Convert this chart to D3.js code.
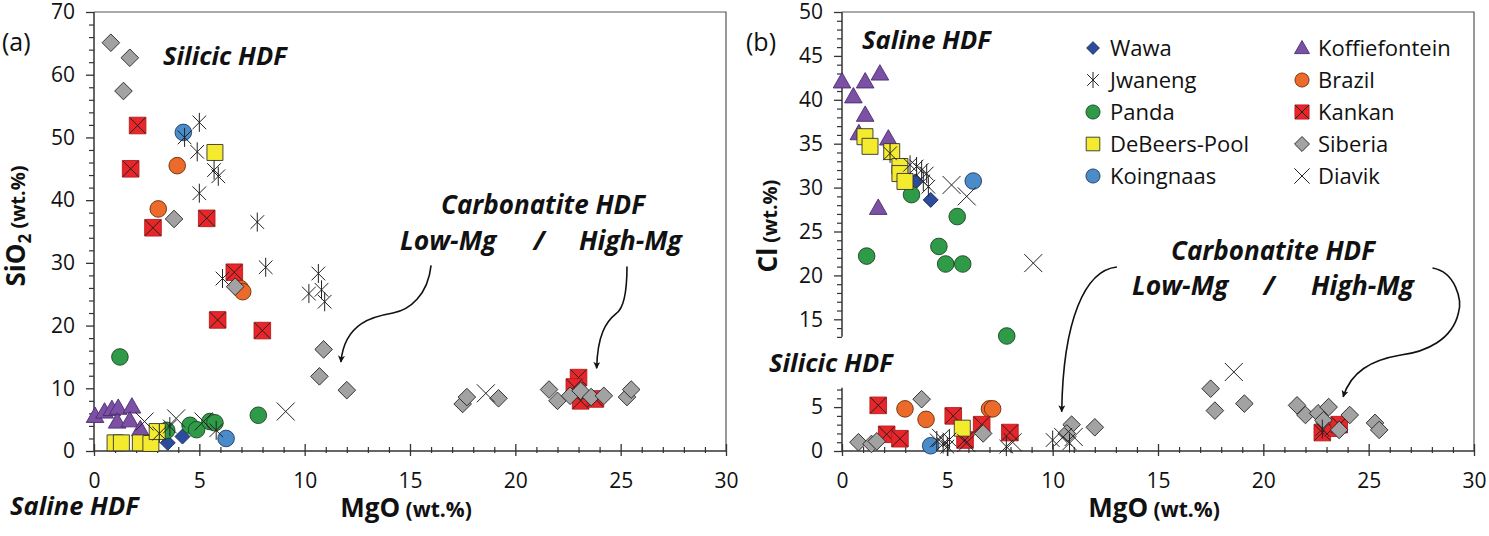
<!DOCTYPE html>
<html>
<head>
<meta charset="utf-8">
<script src="https://cdn.jsdelivr.net/npm/d3@7"></script>
<style>
  body { margin: 0; background: #fff; }
  text { font-family: "Open Sans", sans-serif; fill: #111; }
</style>
</head>
<body>
<script>
// ---- data: [MgO wt.%, SiO2 wt.%] for panel (a), [MgO wt.%, Cl wt.%] for panel (b)
var wawaA = [[3.5, 1.3], [4.2, 2.3]];
var koffA = [[0.05, 5.6], [0.5, 6.3], [0.85, 6.7], [1.15, 6.9], [1.8, 7.1], [1.1, 4.7], [1.7, 4.9], [2.2, 3.5]];
var jwanA = [[5.0, 52.4], [4.3, 50.0], [4.9, 47.7], [5.7, 44.8], [5.9, 43.8], [5.0, 41.1], [7.75, 36.5],
             [8.15, 29.3], [10.65, 28.3], [10.2, 25.1], [10.8, 25.7], [10.95, 23.8], [6.1, 27.5],
             [3.6, 3.9], [3.1, 2.8], [5.8, 3.3]];
var pandaA = [[1.23, 15.0], [7.8, 5.7], [4.56, 4.1], [4.87, 3.4], [5.5, 4.7], [5.74, 4.5], [3.45, 3.3]];
var koinA = [[4.24, 50.8], [6.27, 2.0]];
var brazA = [[3.95, 45.5], [3.05, 38.6], [6.95, 25.9], [7.06, 25.4]];
var kankA = [[2.07, 51.9], [1.74, 45.0], [2.8, 35.6], [5.35, 37.1], [6.66, 28.5], [5.87, 20.9], [7.99, 19.2],
             [23.0, 11.7], [22.8, 10.2], [23.1, 8.0], [23.8, 8.3]];
var debA = [[5.74, 47.6], [1.0, 1.3], [1.3, 1.3], [2.2, 1.3], [2.7, 1.2], [3.0, 3.1]];
var sibA = [[0.8, 65.1], [1.7, 62.7], [1.4, 57.4], [3.8, 37.0], [6.7, 26.2], [10.9, 16.2], [10.7, 11.9],
            [12.0, 9.7], [17.5, 7.5], [17.7, 8.6], [19.2, 8.4], [21.6, 9.8], [22.0, 8.0], [22.6, 8.8],
            [23.1, 9.6], [23.6, 8.6], [24.2, 8.8], [25.3, 8.6], [25.5, 9.8]];
var diavA = [[9.1, 6.3], [18.6, 9.2], [2.4, 4.7], [3.9, 5.2], [5.2, 4.7]];

var wawaB = [[3.46, 30.7], [4.21, 28.6]];
var koffB = [[0.0, 42.1], [0.54, 40.4], [1.1, 42.1], [1.8, 43.0], [1.1, 38.3], [0.8, 36.2], [2.2, 35.6], [1.72, 27.7]];
var jwanB = [[2.28, 33.9], [3.23, 32.6], [3.54, 32.4], [3.78, 32.0], [4.02, 31.6], [3.86, 30.7], [4.1, 30.1],
             [4.5, 1.2], [4.8, 0.8], [5.0, 0.5], [5.1, 1.3], [7.8, 0.5], [10.0, 1.25], [10.8, 0.9], [22.8, 2.5]];
var pandaB = [[3.3, 29.2], [5.47, 26.7], [1.17, 22.2], [4.6, 23.3], [4.92, 21.3], [5.73, 21.3], [7.82, 13.1]];
var koinB = [[6.23, 30.75], [4.21, 0.6]];
var brazB = [[2.99, 4.8], [3.99, 3.6], [7.0, 4.8], [7.15, 4.8]];
var kankB = [[1.72, 5.2], [2.12, 1.9], [2.75, 1.4], [5.28, 4.0], [5.84, 1.25], [6.63, 3.0], [7.97, 2.1],
             [22.8, 2.1], [23.3, 2.6], [23.6, 3.0]];
var debB = [[1.09, 35.8], [1.33, 34.7], [2.36, 34.1], [2.75, 32.4], [2.75, 31.6], [2.99, 30.7], [5.71, 2.6]];
var sibB = [[0.78, 1.0], [1.4, 0.8], [1.65, 1.1], [3.78, 5.9], [6.7, 2.0], [10.9, 3.0], [10.67, 2.0], [12.0, 2.7],
            [17.5, 7.1], [17.7, 4.6], [19.1, 5.4], [21.6, 5.2], [22.0, 4.1], [22.6, 4.3], [23.1, 5.0],
            [22.85, 3.5], [23.6, 2.4], [24.1, 4.1], [25.3, 3.2], [25.5, 2.4]];
var diavB = [[5.2, 30.3], [5.92, 29.0], [9.08, 21.4], [18.6, 9.0], [4.7, 1.5], [5.9, 0.9], [8.1, 1.0],
             [10.5, 1.6], [11.0, 1.6]];

// legend order (two columns) and drawing order
var legendCol1 = ['Wawa', 'Jwaneng', 'Panda', 'DeBeers-Pool', 'Koingnaas'];
var legendCol2 = ['Koffiefontein', 'Brazil', 'Kankan', 'Siberia', 'Diavik'];
var drawOrder = ['Wawa', 'Koffiefontein', 'Panda', 'Koingnaas', 'Brazil', 'Kankan', 'DeBeers-Pool', 'Siberia', 'Jwaneng', 'Diavik'];

var panelAData = {'Wawa': wawaA, 'Koffiefontein': koffA, 'Jwaneng': jwanA, 'Panda': pandaA, 'Koingnaas': koinA,
  'Brazil': brazA, 'Kankan': kankA, 'DeBeers-Pool': debA, 'Siberia': sibA, 'Diavik': diavA};
var panelBData = {'Wawa': wawaB, 'Koffiefontein': koffB, 'Jwaneng': jwanB, 'Panda': pandaB, 'Koingnaas': koinB,
  'Brazil': brazB, 'Kankan': kankB, 'DeBeers-Pool': debB, 'Siberia': sibB, 'Diavik': diavB};

// tick values
var xMajor = [0, 5, 10, 15, 20, 25, 30];
var yMajorA = [0, 10, 20, 30, 40, 50, 60, 70];
var yMajorB = [0, 5, 15, 20, 25, 30, 35, 40, 45, 50];

// ---- marker shapes (custom d3.symbol types, size = radius)
var shapes = {
  circle: { draw: function(c, r) { c.moveTo(r, 0); c.arc(0, 0, r, 0, 2 * Math.PI); } },
  square: { draw: function(c, r) { c.rect(-r, -r, 2 * r, 2 * r); } },
  diamond: { draw: function(c, r) { c.moveTo(0, -r); c.lineTo(r, 0); c.lineTo(0, r); c.lineTo(-r, 0); c.closePath(); } },
  triangle: { draw: function(c, r) { c.moveTo(0, -r); c.lineTo(r, r * 0.75); c.lineTo(-r, r * 0.75); c.closePath(); } },
  cross: { draw: function(c, r) { c.moveTo(-r, -r); c.lineTo(r, r); c.moveTo(-r, r); c.lineTo(r, -r); } },
  star: { draw: function(c, r) {
    var a = r * 0.72;
    c.moveTo(0, -r); c.lineTo(0, r);
    c.moveTo(-a, -a); c.lineTo(a, a);
    c.moveTo(-a, a); c.lineTo(a, -a);
  } }
};

var styles = {
  'Wawa':          { shape: 'diamond',  r: 7.5, fill: '#2c4d9c', stroke: '#17275a' },
  'Koffiefontein': { shape: 'triangle', r: 8.8, fill: '#7c50a4', stroke: '#4a2c6c' },
  'Jwaneng':       { shape: 'star',     r: 9.5, fill: 'none',    stroke: '#222', sw: 1 },
  'Panda':         { shape: 'circle',   r: 8.3, fill: '#2f9a47', stroke: '#1b4422' },
  'Koingnaas':     { shape: 'circle',   r: 8.3, fill: '#4a8bca', stroke: '#1f3a5c' },
  'Brazil':        { shape: 'circle',   r: 8.3, fill: '#ec6b2b', stroke: '#6b2c0d' },
  'Kankan':        { shape: 'square',   r: 8.3, fill: '#e8262a', stroke: '#b81c1f', cross: true },
  'DeBeers-Pool':  { shape: 'square',   r: 8,   fill: '#f4ea2e', stroke: '#333' },
  'Siberia':       { shape: 'diamond',  r: 8.8, fill: '#a2a2a2', stroke: '#222' },
  'Diavik':        { shape: 'cross',    r: 9,   fill: 'none',    stroke: '#222', sw: 1 }
};

var W = 1489, H = 536;
var svg = d3.select('body').append('svg').attr('width', W).attr('height', H);
svg.append('rect').attr('width', W).attr('height', H).attr('fill', '#fff');

var defs = svg.append('defs');
defs.append('marker').attr('id', 'arrow').attr('viewBox', '0 0 10 10')
  .attr('refX', 9).attr('refY', 5).attr('markerWidth', 10).attr('markerHeight', 7)
  .attr('markerUnits', 'userSpaceOnUse').attr('orient', 'auto')
  .append('path').attr('d', 'M0,0L10,5L0,10L2.5,5Z').attr('fill', '#111');

var axisColor = '#333';
var tickFont = '21px';

function drawMarker(g, name, r) {
  var st = styles[name];
  g.append('path')
    .attr('d', d3.symbol().type(shapes[st.shape]).size(r || st.r)())
    .attr('fill', st.fill).attr('stroke', st.stroke).attr('stroke-width', st.sw || 0.9);
  if (st.cross) {
    g.append('path')
      .attr('d', d3.symbol().type(shapes.cross).size((r || st.r) * 0.95)())
      .attr('fill', 'none').attr('stroke', '#222').attr('stroke-width', 1);
  }
}

function range(a, b) { var o = []; for (var i = a; i <= b; i++) o.push(i); return o; }

function drawPanel(x, y, data, yMajor, yMinor, ySegments) {
  var g = svg.append('g');
  var x0 = x.range()[0], x1 = x.range()[1], yb = y.range()[0], yt = y.range()[1];

  // frame top + right
  g.append('path').attr('d', 'M' + x0 + ',' + yt + 'H' + x1 + 'V' + yb)
    .attr('fill', 'none').attr('stroke', '#555').attr('stroke-width', 1.2);

  // x axis
  var xMinor = range(1, 29).filter(function(d) { return d % 5 !== 0; });
  var gx = g.append('g').attr('transform', 'translate(0,' + yb + ')');
  gx.append('g').call(d3.axisBottom(x).tickValues(xMinor).tickFormat('').tickSizeOuter(0))
    .call(function(s) { s.select('.domain').remove(); })
    .selectAll('.tick line').attr('y1', -4).attr('y2', 2).attr('stroke', axisColor).attr('stroke-width', 1.2);
  var gxM = gx.append('g').call(d3.axisBottom(x).tickValues(xMajor).tickFormat(d3.format('d')).tickSizeOuter(0));
  gxM.select('.domain').remove();
  gxM.selectAll('.tick line').attr('y1', -7).attr('y2', 5).attr('stroke', axisColor).attr('stroke-width', 1.3);
  gxM.selectAll('.tick text').attr('y', 22).attr('dy', '0.71em')
    .style('font-size', tickFont).style('font-family', '"Open Sans", sans-serif').attr('fill', '#111');
  gx.append('line').attr('x1', x0).attr('x2', x1).attr('stroke', axisColor).attr('stroke-width', 1.5);

  // y axis
  var gy = g.append('g').attr('transform', 'translate(' + x0 + ',0)');
  gy.append('g').call(d3.axisLeft(y).tickValues(yMinor).tickFormat('').tickSize(5).tickSizeOuter(0))
    .call(function(s) { s.select('.domain').remove(); })
    .selectAll('.tick line').attr('stroke', axisColor).attr('stroke-width', 1.2);
  var gyM = gy.append('g').call(d3.axisLeft(y).tickValues(yMajor).tickFormat(d3.format('d')).tickSize(8).tickPadding(11).tickSizeOuter(0));
  gyM.select('.domain').remove();
  gyM.selectAll('.tick line').attr('stroke', axisColor).attr('stroke-width', 1.3);
  gyM.selectAll('.tick text').style('font-size', tickFont).style('font-family', '"Open Sans", sans-serif').attr('fill', '#111');
  ySegments.forEach(function(sg) {
    gy.append('line').attr('y1', y(sg[0])).attr('y2', y(sg[1])).attr('stroke', axisColor).attr('stroke-width', 1.5);
  });

  // points
  drawOrder.forEach(function(name) {
    g.append('g').selectAll('g').data(data[name]).enter().append('g')
      .attr('transform', function(d) { return 'translate(' + x(d[0]) + ',' + y(d[1]) + ')'; })
      .each(function() { drawMarker(d3.select(this), name); });
  });
  return g;
}

var xA = d3.scaleLinear().domain([0, 30]).range([94, 726]);
var yA = d3.scaleLinear().domain([0, 70]).range([451, 12]);
var xB = d3.scaleLinear().domain([0, 30]).range([842, 1474]);
var yB = d3.scaleLinear().domain([0, 50]).range([451, 12]);

var yMinorA = range(1, 34).map(function(d) { return d * 2; }).filter(function(d) { return d % 10 !== 0; });
var yMinorB = range(1, 7).concat(range(13, 49)).filter(function(d) { return d % 5 !== 0; });

var gA = drawPanel(xA, yA, panelAData, yMajorA, yMinorA, [[0, 70]]);
var gB = drawPanel(xB, yB, panelBData, yMajorB, yMinorB, [[0, 7.2], [13, 50]]);

// ---- axis titles
function xTitle(cx) {
  var t = svg.append('text').attr('x', cx).attr('y', 517).attr('text-anchor', 'middle').attr('font-weight', 700);
  t.append('tspan').attr('font-size', 26).text('MgO');
  t.append('tspan').attr('font-size', 21).text(' (wt.%)');
}
xTitle(406);
xTitle(1154);

var tA = svg.append('text').attr('transform', 'translate(25,226) rotate(-90)').attr('text-anchor', 'middle').attr('font-weight', 700);
tA.append('tspan').attr('font-size', 26).text('SiO');
tA.append('tspan').attr('font-size', 17).attr('dy', 6).text('2');
tA.append('tspan').attr('font-size', 20).attr('dy', -6).text(' (wt.%)');
var tB = svg.append('text').attr('transform', 'translate(777,226) rotate(-90)').attr('text-anchor', 'middle').attr('font-weight', 700);
tB.append('tspan').attr('font-size', 26).text('Cl');
tB.append('tspan').attr('font-size', 20).text(' (wt.%)');

// panel letters
svg.append('text').attr('x', 2).attr('y', 51).attr('font-size', 25).text('(a)');
svg.append('text').attr('x', 746).attr('y', 51).attr('font-size', 25).text('(b)');

// ---- annotations
function note(txt, px, py, anchor, fs) {
  svg.append('text').attr('x', px).attr('y', py).attr('text-anchor', anchor || 'start')
    .attr('font-size', fs || 25.5).attr('font-weight', 700).attr('font-style', 'italic').text(txt);
}
note('Silicic HDF', 163, 65);
note('Saline HDF', 10, 515);
note('Carbonatite HDF', 543, 214, 'middle', 26);
note('Low-Mg', 400, 250, 'start', 26.5);
note('/', 539, 250, 'middle', 26.5);
note('High-Mg', 579, 250, 'start', 26.5);

note('Saline HDF', 862, 49);
note('Silicic HDF', 769, 372);
note('Carbonatite HDF', 1273, 260, 'middle', 26);
note('Low-Mg', 1132, 295, 'start', 26.5);
note('/', 1269, 295, 'middle', 26.5);
note('High-Mg', 1311, 295, 'start', 26.5);

// arrows, given in data units of each panel
var arrowsA = [
  [[16.0, 29.6], [15.85, 24.9], [15.0, 22.5], [14.19, 22.0], [13.33, 21.5], [11.9, 20.6], [11.72, 14.2]],
  [[25.3, 29.4], [25.3, 24.1], [25.06, 22.5], [24.78, 21.9], [24.3, 20.6], [23.9, 18.5], [23.86, 13.2]]
];
var arrowsB = [
  [[13.05, 20.96], [11.53, 20.6], [10.49, 14.9], [10.43, 4.48]],
  [[28.03, 20.84], [29.12, 20.39], [29.45, 17.2], [29.26, 15.72], [28.97, 12.64], [27.69, 11.28], [26.53, 10.93],
   [25.1, 10.36], [24.16, 8.99], [23.79, 6.18]]
];
function arrowPath(pts, x, y) {
  var p = d3.path();
  p.moveTo(x(pts[0][0]), y(pts[0][1]));
  for (var i = 1; i + 2 < pts.length; i += 3) {
    p.bezierCurveTo(x(pts[i][0]), y(pts[i][1]), x(pts[i + 1][0]), y(pts[i + 1][1]), x(pts[i + 2][0]), y(pts[i + 2][1]));
  }
  return p.toString();
}
arrowsA.forEach(function(a) {
  svg.append('path').attr('d', arrowPath(a, xA, yA)).attr('fill', 'none').attr('stroke', '#111')
    .attr('stroke-width', 1.6).attr('marker-end', 'url(#arrow)');
});
arrowsB.forEach(function(a) {
  svg.append('path').attr('d', arrowPath(a, xB, yB)).attr('fill', 'none').attr('stroke', '#111')
    .attr('stroke-width', 1.6).attr('marker-end', 'url(#arrow)');
});

// ---- legend
var legend = svg.append('g');
[[legendCol1, 1093, 1110], [legendCol2, 1302, 1318]].forEach(function(col) {
  col[0].forEach(function(name, i) {
    var row = legend.append('g').attr('transform', 'translate(' + col[1] + ',' + (48 + i * 32) + ')');
    drawMarker(row, name, styles[name].r * 0.85);
    row.append('text').attr('x', col[2] - col[1]).attr('dy', '0.35em').attr('font-size', 22).text(name);
  });
});
</script>
</body>
</html>
